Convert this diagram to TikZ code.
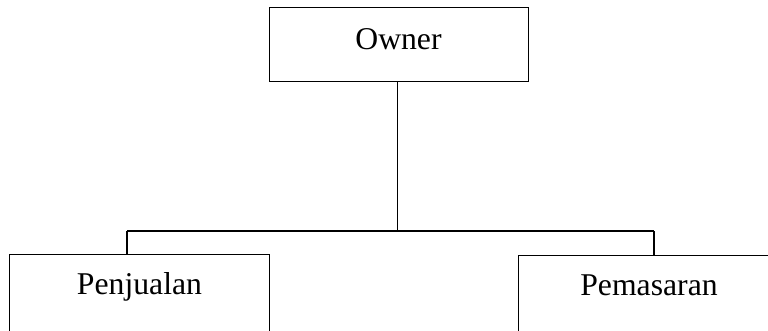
\documentclass[tikz,border=0pt]{standalone}
\usepackage{fontspec}
\setmainfont{Liberation Serif}
\begin{document}
\begin{tikzpicture}[x=1pt,y=-1pt,
  box/.style={draw=black,line width=1.4pt,rectangle,inner sep=0pt,anchor=north west},
  lbl/.style={anchor=base,inner sep=0pt,font=\fontsize{31.7}{36}\selectfont},
  conn/.style={draw=black,line width=1.4pt}]
\useasboundingbox (0,0) rectangle (768,330);
\clip (0,0) rectangle (768,330);
\node[box,minimum width=259pt,minimum height=74pt] (owner) at (269,7) {};
\node[box,minimum width=260pt,minimum height=100pt] (penj) at (9,253.5) {};
\node[box,minimum width=262pt,minimum height=100pt] (pemas) at (518,255) {};
\node[lbl] (towner) at (398.5,49) {Owner};
\node[lbl] (tpenj) at (139.5,294) {Penjualan};
\node[lbl] (tpemas) at (649,295) {Pemasaran};
\coordinate (j) at (397.5,231);
\coordinate (jl) at (127,231);
\coordinate (jr) at (654,231);
\draw[conn] (owner.south -| j) -- (j);
\draw[conn] (jl) -- (jr);
\draw[conn] (jl) -- (jl |- penj.north);
\draw[conn] (jr) -- (jr |- pemas.north);
\end{tikzpicture}
\end{document}
